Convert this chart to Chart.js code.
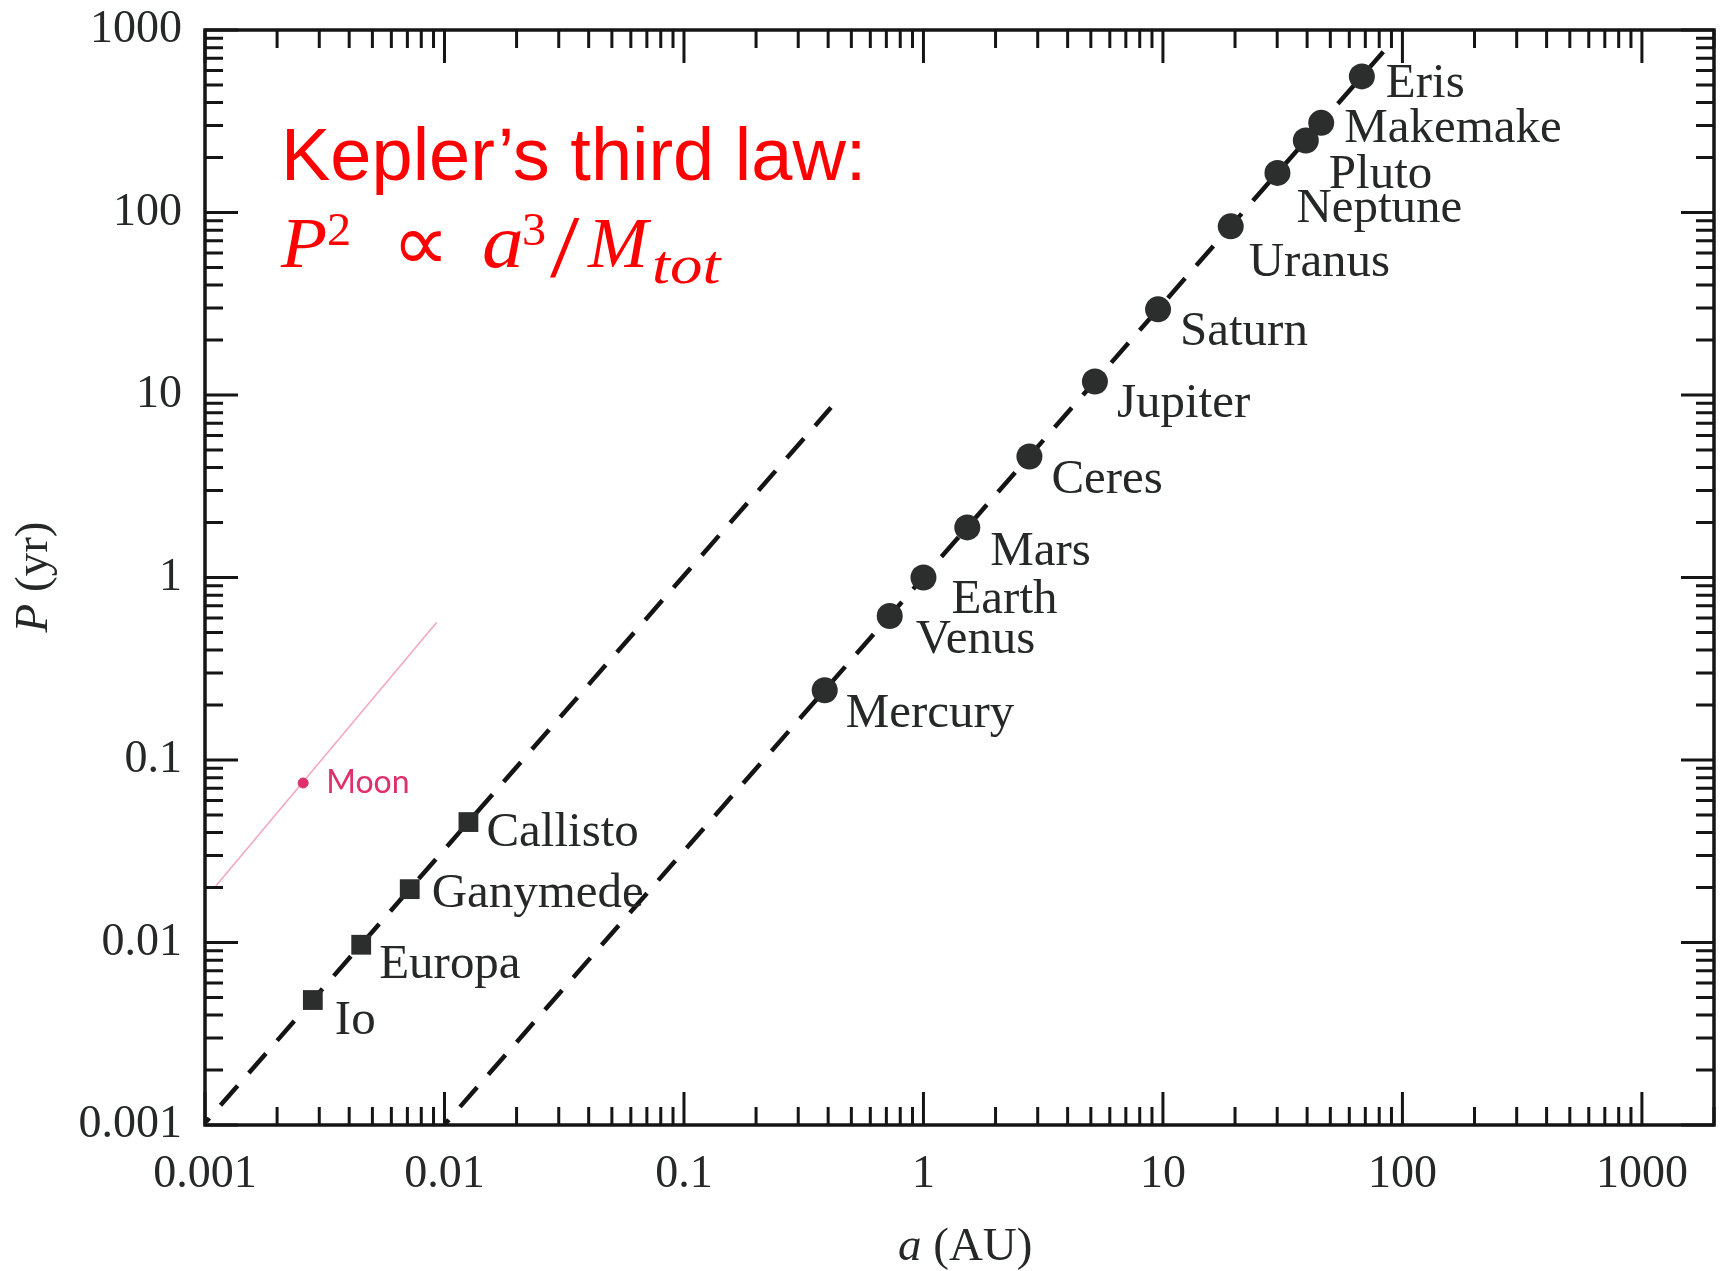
<!DOCTYPE html>
<html><head><meta charset="utf-8">
<script src="https://cdn.jsdelivr.net/npm/chart.js@4.4.1/dist/chart.umd.min.js"></script>
<style>html,body{margin:0;padding:0;background:#fff;}#wrap{width:1728px;height:1271px;}</style>
</head><body><div id="wrap"><canvas id="c" width="1728" height="1271"></canvas></div>
<script>
// ---- data ----
const xTickValues = [0.001, 0.01, 0.1, 1, 10, 100, 1000];
const xTickLabels = ['0.001', '0.01', '0.1', '1', '10', '100', '1000'];
const yTickValues = [0.001, 0.01, 0.1, 1, 10, 100, 1000];
const yTickLabels = ['0.001', '0.01', '0.1', '1', '10', '100', '1000'];
const xMin = 0.001, xMax = 2000, yMin = 0.001, yMax = 1000;

const planetNames = ['Mercury', 'Venus', 'Earth', 'Mars', 'Ceres', 'Jupiter', 'Saturn', 'Uranus', 'Neptune', 'Pluto', 'Makemake', 'Eris'];
const planetA = [0.387, 0.723, 1.0, 1.524, 2.77, 5.20, 9.54, 19.19, 30.07, 39.5, 45.8, 67.7];
const planetP = [0.241, 0.615, 1.0, 1.881, 4.60, 11.86, 29.46, 84.0, 164.8, 248, 310, 557];

const jovianNames = ['Io', 'Europa', 'Ganymede', 'Callisto'];
const jovianA = [0.00282, 0.00449, 0.00716, 0.01259];
const jovianP = [0.00484, 0.00972, 0.0196, 0.0457];

const lunarNames = ['Moon'];
const lunarA = [0.00257];
const lunarP = [0.0748];

const sunLineA = [0.0101, 85];
const sunLineP = [0.00102, 784];
const jupiterLineA = [0.00101, 0.411];
const jupiterLineP = [0.00104, 8.53];
const earthLineA = [0.00111, 0.00927];
const earthLineP = [0.0204, 0.566];

// ---- layout (label offsets from their marker, px) ----
const planetLabelOffsets = [[21,37],[26,37],[28,35],[23,38],[22,36],[22,36],[22,36],[18,50],[19,49],[23,47],[23,19],[24,21]];
const jovianLabelOffsets = [[22,34],[18,33],[22,18],[18,24]];

const pts = (A, P) => A.map((a, i) => ({x: a, y: P[i]}));
const SERIF = '"Liberation Serif", "Times New Roman", serif';
const INK = '#262828';

function txt(c, s, x, y, font, sx) {
  c.save();
  c.font = font;
  c.translate(x, y);
  c.scale(sx || 1, 1);
  c.fillText(s, 0, 0);
  c.restore();
}

const framePlugin = {
  id: 'frame',
  beforeDraw(chart) {
    const c = chart.ctx;
    c.save(); c.fillStyle = '#ffffff'; c.fillRect(0, 0, chart.width, chart.height); c.restore();
  },
  afterDatasetsDraw(chart) {
    const c = chart.ctx;
    const {left, right, top, bottom} = chart.chartArea;
    const xs = chart.scales.x, ys = chart.scales.y;
    c.save();
    c.strokeStyle = '#151515';
    c.lineWidth = 3;
    c.lineCap = 'butt';
    c.beginPath();
    for (let k = -3; k <= 3; k++) {
      for (let m = 1; m <= 9; m++) {
        const v = Number((m * Math.pow(10, k)).toPrecision(6));
        const len = m === 1 ? 33 : 18;
        if (v >= xMin && v <= xMax) {
          const px = xs.getPixelForValue(v);
          c.moveTo(px, bottom); c.lineTo(px, bottom - len);
          c.moveTo(px, top); c.lineTo(px, top + len);
        }
        if (v >= yMin && v <= yMax) {
          const py = ys.getPixelForValue(v);
          c.moveTo(left, py); c.lineTo(left + len, py);
          c.moveTo(right, py); c.lineTo(right - len, py);
        }
      }
    }
    c.stroke();
    c.lineWidth = 3.5;
    c.strokeRect(left, top, right - left, bottom - top);
    c.restore();

    // point labels
    c.save();
    c.fillStyle = INK;
    c.textAlign = 'left';
    c.textBaseline = 'alphabetic';
    const lf = '48px ' + SERIF;
    const m0 = chart.getDatasetMeta(0);
    planetNames.forEach((n, i) => {
      const p = m0.data[i];
      txt(c, n, p.x + planetLabelOffsets[i][0], p.y + planetLabelOffsets[i][1], lf, 1.02);
    });
    const m1 = chart.getDatasetMeta(1);
    jovianNames.forEach((n, i) => {
      const p = m1.data[i];
      txt(c, n, p.x + jovianLabelOffsets[i][0], p.y + jovianLabelOffsets[i][1], lf, 1.02);
    });
    const m2 = chart.getDatasetMeta(2);
    c.fillStyle = '#e0306c';
    lunarNames.forEach((n, i) => {
      const p = m2.data[i];
      txt(c, n, p.x + 23, p.y + 10, '32px Lato, "Open Sans", sans-serif', 1.0);
    });
    c.restore();
  },
  afterDraw(chart) {
    const c = chart.ctx;
    c.save();
    // axis titles
    c.fillStyle = INK;
    c.textBaseline = 'alphabetic';
    c.textAlign = 'left';
    c.font = 'italic 47px ' + SERIF;
    const aw = c.measureText('a').width;
    c.fillText('a', 898, 1260);
    c.font = '47px ' + SERIF;
    c.fillText(' (AU)', 898 + aw, 1260);

    c.translate(47, 577);
    c.rotate(-Math.PI / 2);
    c.font = 'italic 47px ' + SERIF;
    const pw = c.measureText('P').width;
    c.font = '47px ' + SERIF;
    const rw = c.measureText(' (yr)').width;
    const x0 = -(pw + rw) / 2;
    c.font = 'italic 47px ' + SERIF;
    c.fillText('P', x0, 0);
    c.font = '47px ' + SERIF;
    c.fillText(' (yr)', x0 + pw, 0);
    c.restore();

    // red annotation
    c.save();
    c.fillStyle = '#ff0000';
    c.textAlign = 'left';
    c.textBaseline = 'alphabetic';
    txt(c, 'Kepler\u2019s third law:', 281, 180, '74px "Liberation Sans", Arial, sans-serif', 1);
    txt(c, 'P', 281, 267, 'italic 72px ' + SERIF, 1.05);
    txt(c, '2', 327, 245, '46px ' + SERIF, 1.05);
    txt(c, '\u221D', 392, 270, '80px "DejaVu Sans", sans-serif', 1.0);
    txt(c, 'a', 482, 267, 'italic 76px ' + SERIF, 1.1);
    txt(c, '3', 522, 245, '46px ' + SERIF, 1.05);
    txt(c, '/', 550, 276, '88px ' + SERIF, 1.2);
    txt(c, 'M', 588, 267, 'italic 72px ' + SERIF, 1.0);
    txt(c, 'tot', 652, 283, 'italic 54px ' + SERIF, 1.2);
    c.restore();
  }
};

const zeroPad = s => { s.paddingTop = 0; s.paddingBottom = 0; s.paddingLeft = 0; s.paddingRight = 0; };

const ctx = document.getElementById('c').getContext('2d');
new Chart(ctx, {
  type: 'scatter',
  data: {
    datasets: [
      {label: 'Planets', data: pts(planetA, planetP), pointStyle: 'circle', pointRadius: 13,
       backgroundColor: '#2b2e2d', borderColor: '#2b2e2d', borderWidth: 0, order: 0},
      {label: 'Moons of Jupiter', data: pts(jovianA, jovianP), pointStyle: 'rect', pointRadius: 14,
       backgroundColor: '#2b2e2d', borderColor: '#2b2e2d', borderWidth: 0, order: 0},
      {label: 'Moon', data: pts(lunarA, lunarP), pointStyle: 'circle', pointRadius: 5,
       backgroundColor: '#e0306c', borderColor: '#e0306c', borderWidth: 1, order: 0},
      {type: 'line', label: 'P\u00B2 = a\u00B3 (Sun)', data: pts(sunLineA, sunLineP), borderColor: '#141414',
       borderWidth: 4.5, borderDash: [26, 17], borderDashOffset: 21, pointRadius: 0, fill: false, tension: 0, order: 2},
      {type: 'line', label: 'Jupiter', data: pts(jupiterLineA, jupiterLineP), borderColor: '#141414',
       borderWidth: 4.5, borderDash: [26, 17], borderDashOffset: 21, pointRadius: 0, fill: false, tension: 0, order: 2},
      {type: 'line', label: 'Earth', data: pts(earthLineA, earthLineP), borderColor: '#f3a9c0',
       borderWidth: 1.6, pointRadius: 0, fill: false, tension: 0, order: 2}
    ]
  },
  options: {
    responsive: false,
    animation: false,
    events: [],
    layout: {padding: {left: 0, top: 30, right: 1, bottom: 0}},
    plugins: {legend: {display: false}, tooltip: {enabled: false}},
    scales: {
      x: {
        type: 'logarithmic', min: xMin, max: xMax,
        grid: {display: false, drawTicks: false}, border: {display: false},
        afterBuildTicks: s => { s.ticks = xTickValues.map(v => ({value: v, major: true})); },
        ticks: {font: {family: 'Liberation Serif', size: 46}, color: INK, padding: 22,
                maxRotation: 0, minRotation: 0, autoSkip: false,
                callback: v => xTickLabels[xTickValues.indexOf(v)]},
        afterFit: s => { s.height = 146; zeroPad(s); }
      },
      y: {
        type: 'logarithmic', min: yMin, max: yMax,
        grid: {display: false, drawTicks: false}, border: {display: false},
        afterBuildTicks: s => { s.ticks = yTickValues.map(v => ({value: v, major: true})); },
        ticks: {font: {family: 'Liberation Serif', size: 46}, color: INK, padding: 23, autoSkip: false,
                callback: v => yTickLabels[yTickValues.indexOf(v)]},
        afterFit: s => { s.width = 205; zeroPad(s); }
      }
    }
  },
  plugins: [framePlugin]
});
</script>
</body></html>
